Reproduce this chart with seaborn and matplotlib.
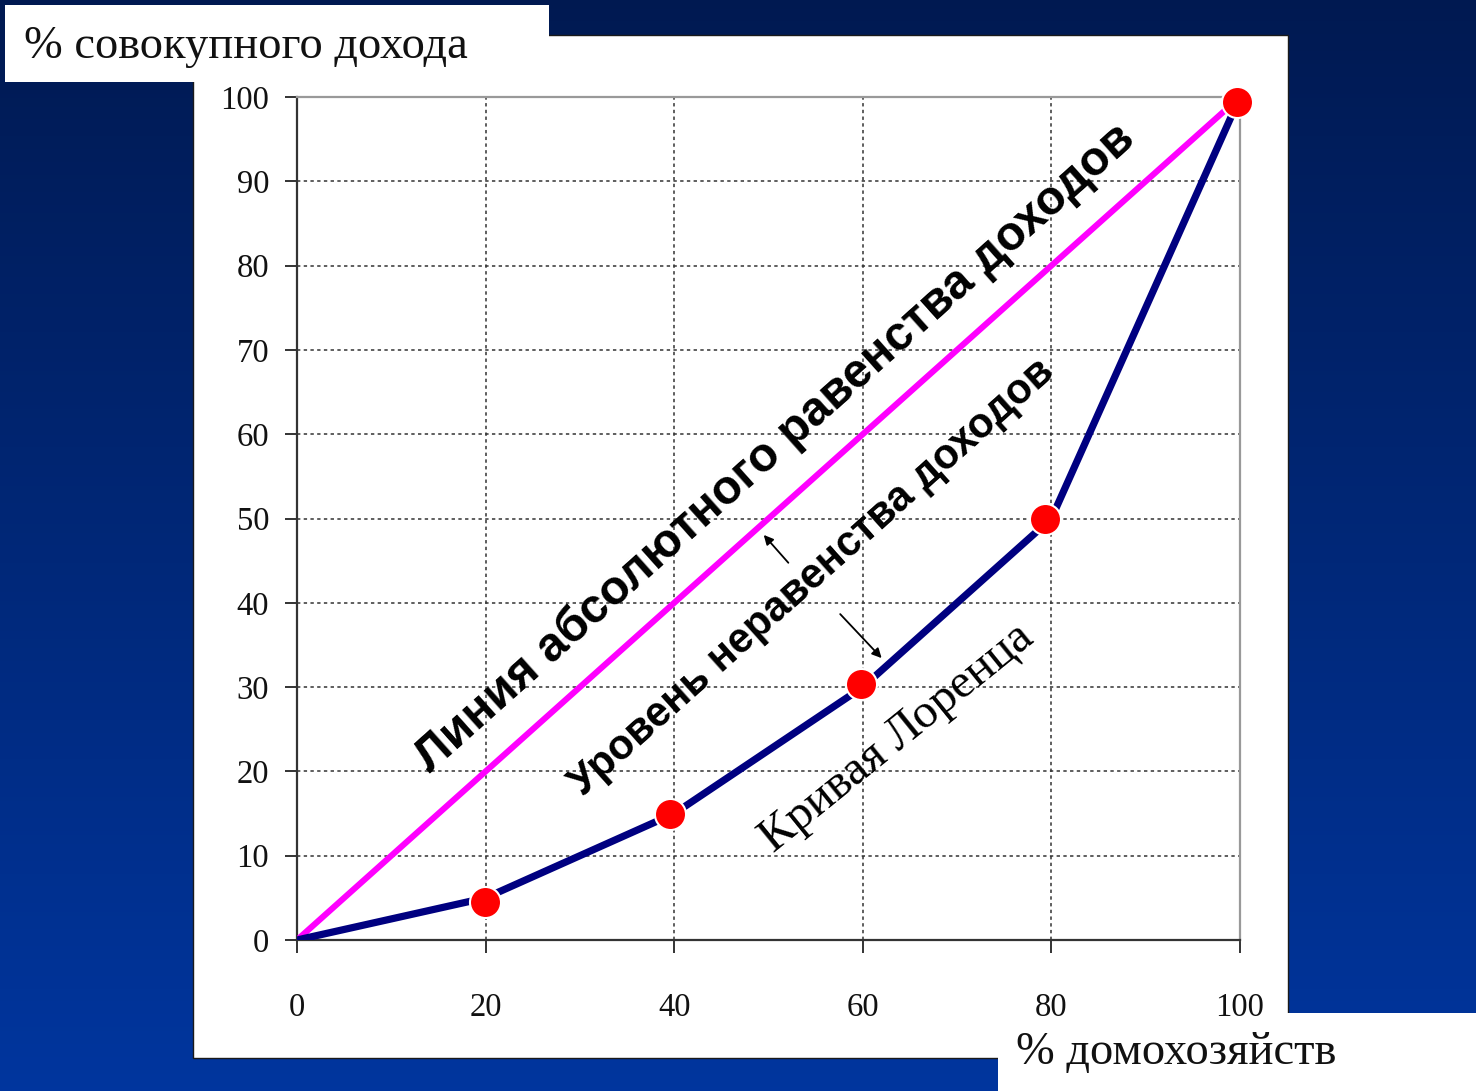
import matplotlib
matplotlib.use("Agg")
import matplotlib.pyplot as plt
from matplotlib.patches import Rectangle
import numpy as np
import pandas as pd
import seaborn as sns


sns.set_theme(style="white")
plt.rcParams["font.family"] = ["Liberation Serif", "DejaVu Serif"]

# data
households = [0, 20, 40, 60, 80, 100]
income = [0, 5, 15, 30, 50, 100]
equality = [0, 100]

dot_x = [19.9, 39.6, 59.8, 79.3, 99.7]
dot_y = [4.5, 15.0, 30.4, 50.0, 99.4]

x_ticks = [0, 20, 40, 60, 80, 100]
y_ticks = [0, 10, 20, 30, 40, 50, 60, 70, 80, 90, 100]

title_y = "% совокупного дохода"
title_x = "% домохозяйств"
label_equal = "Линия абсолютного равенства доходов"
label_gap = "Уровень неравенства доходов"
label_curve = "Кривая Лоренца"

lorenz_df = pd.DataFrame({"households": households, "income": income})
equal_df = pd.DataFrame({"households": equality, "income": equality})
dots_df = pd.DataFrame({"households": dot_x, "income": dot_y})

W, H = 1476, 1091
fig = plt.figure(figsize=(W / 100, H / 100), dpi=100)

#
# slide background, panel and caption boxes (pixel coordinates)
bg = fig.add_axes([0, 0, 1, 1], zorder=-10)
grad = np.linspace(0, 1, 256).reshape(-1, 1)
top_col = np.array([0.0, 0.10, 0.32])
bot_col = np.array([0.0, 0.21, 0.62])
img = top_col + grad[..., None] * (bot_col - top_col)
bg.imshow(img, extent=[0, W, H, 0], aspect="auto")
bg.set_xlim(0, W)
bg.set_ylim(H, 0)
bg.axis("off")
bg.add_patch(Rectangle((193, 35), 1095, 1023, facecolor="white", edgecolor="#1a1a1a", linewidth=1))
bg.add_patch(Rectangle((5, 5), 544, 77, facecolor="white", edgecolor="none"))
bg.add_patch(Rectangle((998, 1013), 480, 80, facecolor="white", edgecolor="none"))
bg.text(24, 47, title_y, fontsize=33.5, color="#111111", va="center", ha="left")
bg.text(1016, 1053, title_x, fontsize=33.5, color="#111111", va="center", ha="left")

#
# chart area
left, right, top, bottom = 297, 1240, 97, 940
ax = fig.add_axes([left / W, 1 - bottom / H, (right - left) / W, (bottom - top) / H])
ax.set_facecolor("white")

sns.lineplot(data=equal_df, x="households", y="income", ax=ax, color="#ff00ff", linewidth=4.4,
             solid_capstyle="round", zorder=3)
sns.lineplot(data=lorenz_df, x="households", y="income", ax=ax, color="#000080", linewidth=5.2,
             solid_capstyle="round", zorder=4)
sns.scatterplot(data=dots_df, x="households", y="income", ax=ax, color="#ff0000", s=500,
                edgecolor="white", linewidth=1.5, zorder=5, clip_on=False)

ax.set_xlim(0, 100)
ax.set_ylim(0, 100)
ax.set_xticks(x_ticks)
ax.set_yticks(y_ticks)
ax.set_xlabel("")
ax.set_ylabel("")

for gx in x_ticks[1:-1]:
    ax.axvline(gx, color="#333333", linestyle=(0, (2.2, 2.2)), linewidth=1.1, zorder=1)
for gy in y_ticks[1:-1]:
    ax.axhline(gy, color="#333333", linestyle=(0, (2.2, 2.2)), linewidth=1.1, zorder=1)

for side in ["left", "bottom"]:
    ax.spines[side].set_color("#333333")
    ax.spines[side].set_linewidth(1.6)
for side in ["top", "right"]:
    ax.spines[side].set_color("#999999")
    ax.spines[side].set_linewidth(1.6)

ax.tick_params(axis="x", direction="out", length=9, width=1.4, color="#333333",
               pad=29, labelsize=23.5, bottom=True)
ax.tick_params(axis="y", direction="out", length=9, width=1.4, color="#333333",
               pad=11, labelsize=23.5, left=True)
for lab in ax.get_xticklabels() + ax.get_yticklabels():
    lab.set_color("#111111")

#
# annotations along the curves
sans_bold = dict(family=["Liberation Sans", "DejaVu Sans"], fontweight="bold", color="black")
ax.text(50.7, 58.3, label_equal, rotation=41.8, rotation_mode="anchor", ha="center", va="center",
        fontsize=34.5, zorder=6, **sans_bold)
ax.text(54.6, 43.0, label_gap, rotation=41.8, rotation_mode="anchor", ha="center", va="center",
        fontsize=30, zorder=6, **sans_bold)
ax.text(63.6, 24.0, label_curve, rotation=39, rotation_mode="anchor", ha="center", va="center",
        fontsize=35, color="black", zorder=6)

ax.annotate("", xy=(49.3, 48.3), xytext=(52.3, 44.5),
            arrowprops=dict(arrowstyle="-|>", color="black", lw=1.3, mutation_scale=14), zorder=6)
ax.annotate("", xy=(62.2, 33.2), xytext=(57.4, 38.9),
            arrowprops=dict(arrowstyle="-|>", color="black", lw=1.3, mutation_scale=14), zorder=6)

fig.savefig("out.png", dpi=100)
